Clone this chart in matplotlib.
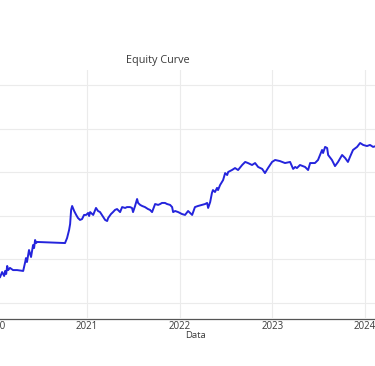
import pandas as pd
import matplotlib.pyplot as plt

# Curva de capital
datas = [
    "2020-01-24", "2020-02-01", "2020-02-09", "2020-02-13", "2020-02-17", "2020-02-21",
    "2020-02-25", "2020-03-03", "2020-03-15", "2020-03-31", "2020-04-24", "2020-05-02",
    "2020-05-05", "2020-05-09", "2020-05-17", "2020-05-25", "2020-06-02", "2020-06-06",
    "2020-06-10", "2020-06-14", "2020-06-18", "2020-10-06", "2020-10-14", "2020-10-22",
    "2020-10-26", "2020-10-30", "2020-11-03", "2020-11-11", "2020-11-19", "2020-11-26",
    "2020-12-04", "2020-12-12", "2020-12-20", "2020-12-28", "2021-01-05", "2021-01-09",
    "2021-01-13", "2021-01-25", "2021-02-05", "2021-02-13", "2021-02-21", "2021-03-05",
    "2021-03-13", "2021-03-21", "2021-03-25", "2021-04-05", "2021-04-13", "2021-04-21",
    "2021-04-29", "2021-05-11", "2021-05-19", "2021-05-31", "2021-06-07", "2021-06-19",
    "2021-06-27", "2021-07-01", "2021-07-09", "2021-07-17", "2021-07-21", "2021-07-29",
    "2021-08-06", "2021-08-17", "2021-08-29", "2021-09-06", "2021-09-14", "2021-09-26",
    "2021-10-08", "2021-10-16", "2021-10-23", "2021-11-04", "2021-11-12", "2021-11-24",
    "2021-12-02", "2021-12-06", "2021-12-14", "2021-12-26", "2022-01-02", "2022-01-10",
    "2022-01-22", "2022-02-03", "2022-02-11", "2022-02-19", "2022-03-02", "2022-03-14",
    "2022-03-30", "2022-04-11", "2022-04-19", "2022-04-23", "2022-05-01", "2022-05-08",
    "2022-05-12", "2022-05-20", "2022-05-28", "2022-06-01", "2022-06-09", "2022-06-21",
    "2022-06-29", "2022-07-07", "2022-07-11", "2022-07-26", "2022-08-07", "2022-08-19",
    "2022-09-04", "2022-09-16", "2022-09-27", "2022-10-13", "2022-10-25", "2022-11-06",
    "2022-11-22", "2022-12-03", "2022-12-15", "2022-12-31", "2023-01-12", "2023-01-31",
    "2023-02-20", "2023-03-12", "2023-03-24", "2023-04-01", "2023-04-08", "2023-04-20",
    "2023-05-10", "2023-05-22", "2023-05-30", "2023-06-18", "2023-06-30", "2023-07-16",
    "2023-07-20", "2023-07-28", "2023-08-05", "2023-08-09", "2023-08-24", "2023-09-05",
    "2023-09-17", "2023-10-03", "2023-10-15", "2023-10-26", "2023-11-03", "2023-11-15",
    "2023-12-01", "2023-12-13", "2023-12-25", "2024-01-09", "2024-01-21", "2024-02-02",
    "2024-02-14",
]
capital = [
    9190, 9420, 9240, 9470, 9330, 9700,
    9510, 9610, 9510, 9510, 9470, 9880,
    10060, 9880, 10430, 10110, 10660, 10520,
    10890, 10750, 10800, 10750, 10980, 11350,
    11620, 12270, 12450, 12220, 12040, 11900,
    11810, 11850, 12040, 12040, 12130, 11990,
    12170, 12040, 12360, 12220, 12170, 11950,
    11810, 11760, 11900, 12080, 12170, 12270,
    12310, 12170, 12400, 12360, 12400, 12400,
    12360, 12170, 12450, 12770, 12590, 12500,
    12450, 12400, 12310, 12270, 12170, 12540,
    12500, 12540, 12590, 12590, 12540, 12500,
    12400, 12170, 12220, 12170, 12130, 12080,
    12040, 12220, 12130, 12040, 12400, 12450,
    12500, 12540, 12590, 12360, 12630, 13050,
    13180, 13090, 13280, 13180, 13410, 13640,
    13960, 13870, 14010, 14100, 14190, 14100,
    14330, 14470, 14420, 14330, 14420, 14240,
    14150, 13960, 14190, 14470, 14560, 14510,
    14420, 14470, 14150, 14240, 14190, 14330,
    14240, 14100, 14420, 14420, 14560, 15020,
    14880, 15160, 15110, 14790, 14560, 14280,
    14470, 14790, 14650, 14470, 14700, 15020,
    15160, 15340, 15250, 15200, 15250, 15160,
    15200,
]

df = pd.DataFrame({"Data": pd.to_datetime(datas), "Capital": capital})

anos = pd.to_datetime(["2020-01-01", "2021-01-01", "2022-01-01", "2023-01-01", "2024-01-01"])
rotulos_anos = ["2020", "2021", "2022", "2023", "2024"]
linhas_y = [8000, 10000, 12000, 14000, 16000, 18000]

plt.rcParams['font.family'] = ['Open Sans', 'DejaVu Sans']

fig = plt.figure(figsize=(3.75, 3.66), dpi=100)
# a área do gráfico passa um pouco das bordas da figura (imagem recortada)
ax = fig.add_axes([-22.5 / 375, 47 / 366, 408.5 / 375, 249 / 366])

ax.plot(df["Data"], df["Capital"], color="#2424dc", linewidth=1.4)

ax.set_xlim(pd.Timestamp("2019-10-27"), pd.Timestamp("2024-03-24"))
ax.set_ylim(7266, 18688)

ax.set_xticks(anos)
ax.set_xticklabels(rotulos_anos)
ax.set_yticks(linhas_y)
ax.set_yticklabels([])
ax.grid(True, color="#ebebeb", linewidth=0.8)
ax.set_axisbelow(True)

for lado in ["top", "left", "right"]:
    ax.spines[lado].set_visible(False)
ax.spines["bottom"].set_color("#555555")
ax.spines["bottom"].set_linewidth(0.9)

ax.tick_params(axis="both", length=0)
ax.tick_params(axis="x", pad=1.5, labelsize=7, labelcolor="#3a3a3a")
for lbl in ax.get_xticklabels():
    lbl.set_bbox(dict(facecolor="white", edgecolor="none", pad=2.2))

fig.text(158 / 375, 1 - 61 / 366, "Equity Curve", ha="center", va="center",
         fontsize=7.8, color="#3a3a3a")
fig.text(196 / 375, 1 - 336 / 366, "Data", ha="center", va="center",
         fontsize=6.8, color="#3a3a3a")

plt.savefig("out.png", dpi=100)
